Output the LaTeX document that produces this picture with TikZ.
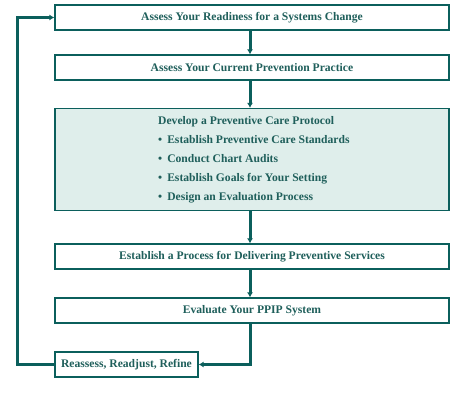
\documentclass[tikz,border=0pt]{standalone}
\usepackage{fontspec}
\setmainfont{Liberation Serif}
\usetikzlibrary{arrows.meta}
\definecolor{teal1}{HTML}{0B5F5C}
\definecolor{tealtext}{HTML}{1F5F5B}
\definecolor{lightfill}{HTML}{DFEEEB}
\begin{document}
\begin{tikzpicture}[x=1pt,y=-1pt,
  stepbox/.style={draw=teal1,line width=1.2pt,fill=white,rectangle,inner sep=0pt,
    font=\bfseries\fontsize{11.6}{13}\selectfont,text=tealtext},
  flow/.style={draw=teal1,line width=3pt,-{Latex[length=5pt,width=6pt]}}]
\useasboundingbox (0,0) rectangle (469,414);
\node[stepbox,minimum width=394pt,minimum height=25pt] (b1) at (252,17.5) {Assess Your Readiness for a Systems Change};
\node[stepbox,minimum width=394pt,minimum height=25pt] (b2) at (252,67.5) {Assess Your Current Prevention Practice};
\node[stepbox,fill=lightfill,minimum width=394pt,minimum height=102pt] (b3) at (252,159.5) {};
\node[stepbox,minimum width=394pt,minimum height=25pt] (b4) at (252,256.5) {Establish a Process for Delivering Preventive Services};
\node[stepbox,minimum width=394pt,minimum height=25pt] (b5) at (252,310.5) {Evaluate Your PPIP System};
\node[stepbox,minimum width=143pt,minimum height=25pt] (b6) at (126.5,364.5) {Reassess, Readjust, Refine};
\begin{scope}[every node/.style={anchor=base west,inner sep=0pt,text=tealtext,font=\bfseries\fontsize{11.6}{13}\selectfont}]
\node (t0) at (158,124.5) {Develop a Preventive Care Protocol};
\node (t1) at (158,143.5) {\textbullet\hspace{5pt}Establish Preventive Care Standards};
\node (t2) at (158,162.5) {\textbullet\hspace{5pt}Conduct Chart Audits};
\node (t3) at (158,181.5) {\textbullet\hspace{5pt}Establish Goals for Your Setting};
\node (t4) at (158,200.5) {\textbullet\hspace{5pt}Design an Evaluation Process};
\end{scope}
\draw[flow] (b1.south -| 250,0) -- (b2.north -| 250,0);
\draw[flow] (b2.south -| 250,0) -- (b3.north -| 250,0);
\draw[flow] (b3.south -| 250,0) -- (b4.north -| 250,0);
\draw[flow] (b4.south -| 250,0) -- (b5.north -| 250,0);
\draw[flow] (b5.south -| 250,0) -- (250,364.5) -- (b6.east);
\draw[flow] (b6.west) -- (17,364.5) -- (17,17.5) -- (b1.west);
\end{tikzpicture}
\end{document}
